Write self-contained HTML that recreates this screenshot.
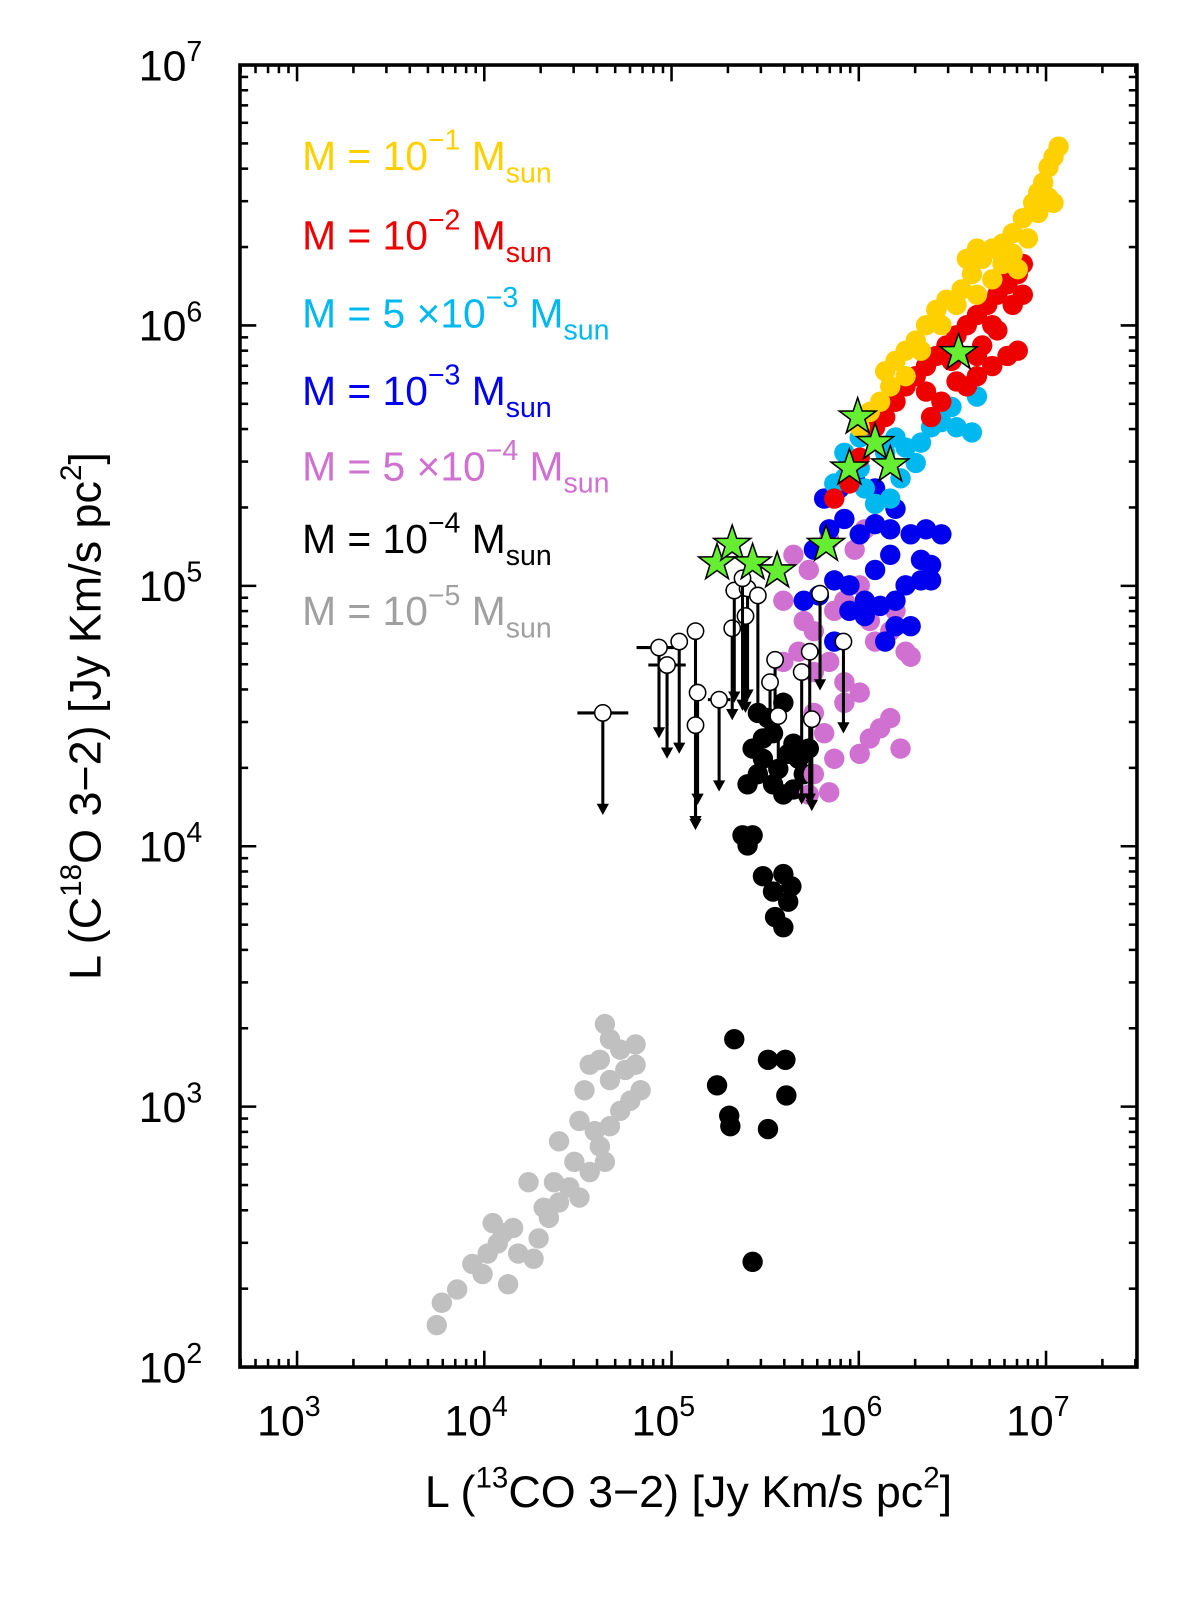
<!DOCTYPE html>
<html><head><meta charset="utf-8"><style>
html,body{margin:0;padding:0;background:#fff;width:1200px;height:1598px;overflow:hidden;}
svg{display:block;font-family:"Liberation Sans",sans-serif;}
</style></head><body>
<svg id="chart" width="1200" height="1598" viewBox="0 0 1200 1598" xmlns="http://www.w3.org/2000/svg">
<rect width="1200" height="1598" fill="#fff"/>
<g transform="matrix(1.0193,0,0,1.0204,-1.6,-1.3)">
<g id="marks"></g>
<g id="axes"></g>
<g id="legend" font-size="40">
<text x="298" y="168" fill="#ffd000">M = 10<tspan dy="-20" font-size="28">−1</tspan><tspan dy="20"> M</tspan><tspan dy="12" font-size="28">sun</tspan></text>
<text x="298" y="246" fill="#ee0000">M = 10<tspan dy="-20" font-size="28">−2</tspan><tspan dy="20"> M</tspan><tspan dy="12" font-size="28">sun</tspan></text>
<text x="298" y="322" fill="#00b8f0">M = 5 ×10<tspan dy="-20" font-size="28">−3</tspan><tspan dy="20"> M</tspan><tspan dy="12" font-size="28">sun</tspan></text>
<text x="298" y="398" fill="#0000ee">M = 10<tspan dy="-20" font-size="28">−3</tspan><tspan dy="20"> M</tspan><tspan dy="12" font-size="28">sun</tspan></text>
<text x="298" y="472" fill="#d070d0">M = 5 ×10<tspan dy="-20" font-size="28">−4</tspan><tspan dy="20"> M</tspan><tspan dy="12" font-size="28">sun</tspan></text>
<text x="298" y="543" fill="#000">M = 10<tspan dy="-20" font-size="28">−4</tspan><tspan dy="20"> M</tspan><tspan dy="12" font-size="28">sun</tspan></text>
<text x="298" y="614" fill="#a0a0a0">M = 10<tspan dy="-20" font-size="28">−5</tspan><tspan dy="20"> M</tspan><tspan dy="12" font-size="28">sun</tspan></text>
</g>
<text x="677" y="1478" text-anchor="middle" font-size="44">L (<tspan dy="-19" font-size="29">13</tspan><tspan dy="19">CO 3−2) [Jy Km/s pc</tspan><tspan dy="-19" font-size="29">2</tspan><tspan dy="19">]</tspan></text>
<text transform="translate(100,703) rotate(-90)" text-anchor="middle" font-size="44">L (C<tspan dy="-19" font-size="29">18</tspan><tspan dy="19">O 3−2) [Jy Km/s pc</tspan><tspan dy="-19" font-size="29">2</tspan><tspan dy="19">]</tspan></text>
</g>
</svg>
<script>
const xDecades=[3,4,5,6,7];
const yDecades=[2,3,4,5,6,7];
const grayX=[3.746,3.773,3.855,3.991,4.018,4.072,4.100,4.154,4.181,4.263,4.290,4.345,4.317,4.399,4.372,4.454,4.481,4.508,4.563,4.644,4.617,4.671,4.726,4.780,4.835,4.808,4.753,4.671,4.617,4.563,4.535,4.508,4.590,4.671,4.726,4.808,4.644,4.399,4.236,4.127,3.936,4.045];
const grayY=[2.161,2.247,2.298,2.357,2.436,2.475,2.514,2.534,2.436,2.416,2.494,2.573,2.612,2.632,2.710,2.690,2.788,2.651,2.749,2.788,2.847,2.925,2.984,3.023,3.063,3.161,3.141,3.102,3.180,3.161,3.063,2.945,2.906,3.259,3.219,3.239,3.317,2.867,2.710,2.318,2.396,2.553];
const blackX=[5.243,5.308,5.314,5.335,5.515,5.608,5.613,5.515,5.433,5.488,5.542,5.553,5.597,5.623,5.640,5.597,5.379,5.433,5.406,5.406,5.461,5.488,5.542,5.597,5.651,5.624,5.678,5.706,5.461,5.515,5.597,5.542,5.433,5.488,5.570,5.651,5.733];
const blackY=[3.082,2.965,2.925,3.259,3.180,3.180,3.043,2.914,2.404,3.885,3.826,3.728,3.689,3.787,3.846,3.893,4.042,4.042,4.003,4.238,4.277,4.336,4.238,4.199,4.218,4.355,4.336,4.277,4.512,4.492,4.551,4.434,4.375,4.414,4.297,4.394,4.375];
const magX=[5.651,5.733,5.597,5.706,5.760,5.869,5.923,6.005,5.978,5.842,6.032,6.059,6.087,6.168,6.196,6.250,6.277,5.597,5.678,5.760,5.842,5.923,6.005,5.760,5.815,5.869,5.760,5.733,5.842,6.059,6.114,6.168,6.223,6.005,5.923];
const magY=[5.119,5.061,4.943,4.865,4.826,4.904,4.943,5.002,5.139,5.178,5.217,4.865,4.786,4.826,4.904,4.747,4.728,4.708,4.747,4.669,4.708,4.630,4.590,4.512,4.434,4.336,4.277,4.199,4.207,4.414,4.453,4.492,4.375,4.355,4.551];
const blueX=[5.706,5.787,5.869,5.950,6.032,6.114,6.196,6.250,6.332,6.386,5.760,5.842,5.923,6.005,6.087,6.168,6.196,6.277,6.359,6.441,5.815,5.896,5.978,6.087,6.141,6.196,6.277,6.087,6.168,6.332,6.386,5.869,5.950,6.032];
const blueY=[4.943,4.963,5.021,5.002,4.943,4.923,4.943,5.002,5.021,5.021,5.139,5.217,5.257,5.198,5.237,5.217,5.296,5.198,5.217,5.198,5.335,5.374,5.413,5.374,4.786,4.845,4.845,5.061,5.119,5.100,5.080,4.786,4.904,4.884];
const cyanX=[5.923,6.005,6.032,6.087,6.168,6.223,6.304,6.332,6.386,6.441,6.495,6.604,6.631,6.522,6.141,6.196,6.005,5.923,5.869,6.250];
const cyanY=[5.511,5.452,5.374,5.315,5.335,5.413,5.472,5.550,5.609,5.629,5.687,5.589,5.727,5.609,5.511,5.570,5.570,5.413,5.393,5.531];
const redX=[5.869,5.950,6.005,6.087,6.141,6.196,6.250,6.304,6.359,6.414,6.468,6.522,6.577,6.631,6.686,6.740,6.794,6.849,6.876,6.740,6.794,6.849,6.713,6.631,6.577,6.522,6.659,6.713,6.822,6.876,6.631,6.767,6.359,6.441,6.386,6.495];
const redY=[5.335,5.393,5.492,5.609,5.648,5.707,5.766,5.805,5.844,5.883,5.923,5.962,6.001,6.040,6.079,6.118,6.158,6.197,6.236,5.981,5.883,5.903,5.844,5.805,5.766,5.785,5.923,6.001,6.079,6.118,5.883,6.197,5.746,5.707,5.648,5.864];
const yelX=[6.005,6.059,6.114,6.168,6.196,6.250,6.304,6.359,6.414,6.468,6.549,6.604,6.659,6.713,6.767,6.822,6.876,6.931,6.958,6.985,7.013,7.040,7.067,7.013,6.958,6.903,6.822,6.849,6.631,6.577,6.522,6.441,6.332,6.250,6.141,6.631,6.713,6.767,7.040];
const yelY=[5.609,5.668,5.707,5.766,5.864,5.903,5.942,6.001,6.060,6.099,6.138,6.197,6.256,6.295,6.314,6.354,6.412,6.471,6.510,6.549,6.608,6.647,6.687,6.491,6.432,6.334,6.275,6.216,6.295,6.256,6.079,6.001,5.903,5.805,5.824,6.118,6.177,6.236,6.471];
const starX=[6.533,5.994,6.087,5.950,6.168,5.825,5.243,5.324,5.433,5.564];
const starY=[5.895,5.648,5.550,5.452,5.464,5.159,5.088,5.159,5.088,5.057];
const limX=[4.633,4.933,4.976,5.041,5.128,5.139,5.128,5.254,5.324,5.335,5.406,5.395,5.461,5.379,5.553,5.526,5.570,5.695,5.738,5.749,5.793,5.918];
const limY=[4.512,4.763,4.696,4.786,4.826,4.590,4.465,4.563,4.837,4.982,4.990,4.884,4.963,5.029,4.716,4.630,4.500,4.669,4.747,4.488,4.970,4.786];
const limDrop=[0.392,0.349,0.360,0.431,0.764,0.431,0.392,0.353,0.353,0.431,0.431,0.372,0.470,0.509,0.235,0.157,0.313,0.509,0.588,0.353,0.372,0.353];
const limHErr=[0.136,0.12,0.1,0,0,0,0,0.06,0,0,0,0,0,0,0,0,0,0,0,0,0,0];

const L=237,R=1117,T=65,B=1341;
const sx=v=>293+(v-3)*183.7;
const sy=v=>1341-(v-2)*255.2;
const NS="http://www.w3.org/2000/svg";
const marks=document.getElementById('marks'),axes=document.getElementById('axes');
function mk(tag,attrs,parent){const e=document.createElementNS(NS,tag);for(const k in attrs)e.setAttribute(k,attrs[k]);parent.appendChild(e);return e;}
function dots(xs,ys,color,name){
  const g=mk('g',{},marks);
  
  
  xs.forEach((x,i)=>{const c=mk('circle',{cx:sx(x),cy:sy(ys[i]),r:10,fill:color},g);
    
    });
}
dots(grayX,grayY,'#c0c0c0','gray');
dots(blackX,blackY,'#000','black');
dots(magX,magY,'#d070d0','magenta');
dots(blueX,blueY,'#0000ee','blue');
dots(cyanX,cyanY,'#00b8f0','cyan');
dots(redX,redY,'#ee0000','red');
dots(yelX,yelY,'#ffd000','yellow');
const lg=mk('g',{},marks);


limX.forEach((x,i)=>{
  const cx=sx(x),cy=sy(limY[i]),ey=sy(limY[i]-limDrop[i]);
  mk('line',{x1:cx,y1:cy,x2:cx,y2:ey-8,stroke:'#000','stroke-width':3},lg);
  const a=mk('path',{d:`M${cx-6},${ey-11}L${cx+6},${ey-11}L${cx},${ey}Z`,fill:'#000'},lg);
  
  
  if(limHErr[i]>0){mk('line',{x1:sx(x-limHErr[i]),y1:cy,x2:sx(x+limHErr[i]),y2:cy,stroke:'#000','stroke-width':3},lg);}
  const c=mk('circle',{cx:cx,cy:cy,r:8,fill:'#fff',stroke:'#000','stroke-width':1.5},lg);
  
  
});
const sg=mk('g',{},marks);


starX.forEach((x,i)=>{
  const cx=sx(x),cy=sy(starY[i]);let d='';
  for(let k=0;k<10;k++){const r=k%2?7.5:19,a=-Math.PI/2+k*Math.PI/5;d+=(k?'L':'M')+(cx+r*Math.cos(a)).toFixed(1)+','+(cy+r*Math.sin(a)).toFixed(1);}
  const p=mk('path',{d:d+'Z',fill:'#66ee33',stroke:'#000','stroke-width':1.5},sg);
  
  
});
const fr=mk('rect',{x:L,y:T,width:R-L,height:B-T,fill:'none',stroke:'#000','stroke-width':3.5},axes);


for(let d=2;d<=7;d++){for(let m=1;m<10;m++){const v=d+Math.log10(m);const x=sx(v);if(x<L||x>R)continue;const len=m==1?16:8;
  mk('line',{x1:x,y1:B,x2:x,y2:B-len,stroke:'#000','stroke-width':2.5},axes);
  mk('line',{x1:x,y1:T,x2:x,y2:T+len,stroke:'#000','stroke-width':2.5},axes);}}
for(let d=2;d<=7;d++){for(let m=1;m<10;m++){const v=d+Math.log10(m);const y=sy(v);if(y<T-1||y>B+1)continue;const len=m==1?16:8;
  mk('line',{x1:L,y1:y,x2:L+len,y2:y,stroke:'#000','stroke-width':2.5},axes);
  mk('line',{x1:R,y1:y,x2:R-len,y2:y,stroke:'#000','stroke-width':2.5},axes);}}
xDecades.forEach(d=>{const t=mk('text',{x:sx(d)-8,y:1408,'text-anchor':'middle','font-size':42},axes);
  
  
  t.innerHTML='10<tspan dy="-19" font-size="28">'+d+'</tspan>';});
yDecades.forEach(d=>{const t=mk('text',{x:200,y:sy(d)+15,'text-anchor':'end','font-size':42},axes);
  
  
  t.innerHTML='10<tspan dy="-19" font-size="28">'+d+'</tspan>';});
</script>
</body></html>
